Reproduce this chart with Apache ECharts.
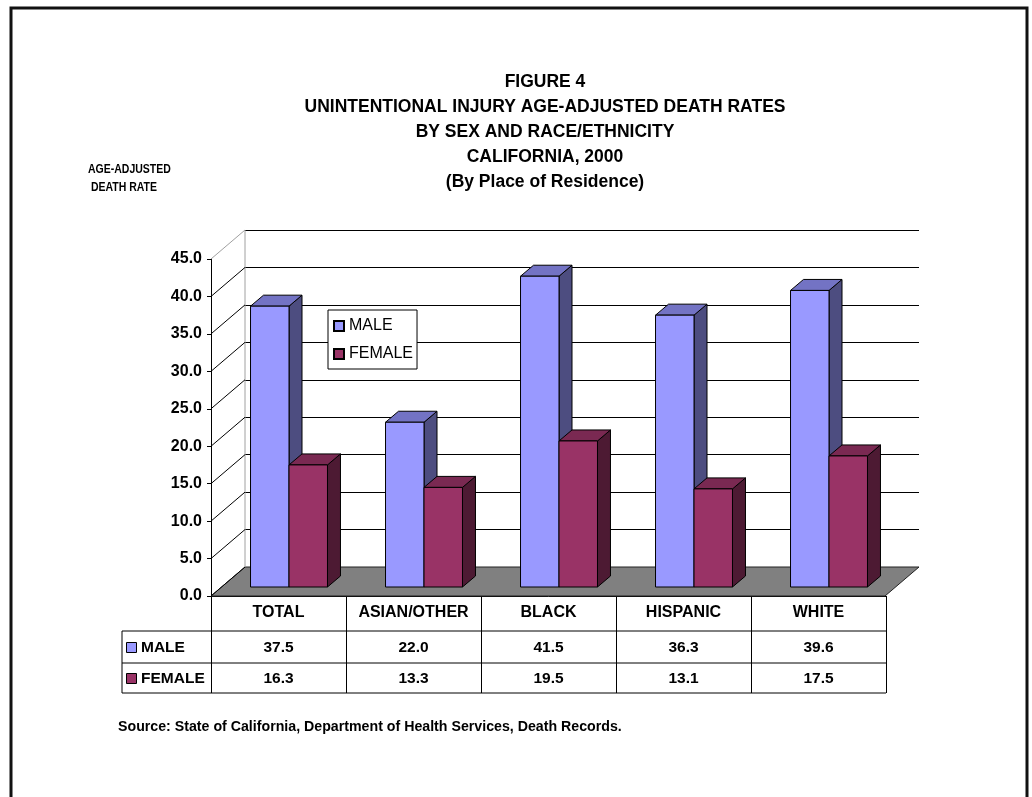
<!DOCTYPE html>
<html>
<head>
<meta charset="utf-8">
<script src="https://cdn.jsdelivr.net/npm/echarts@6/dist/echarts.min.js"></script>
<style>
html,body{margin:0;padding:0;background:#fff;}
#c{width:1032px;height:797px;}
</style>
</head>
<body>
<div id="c"></div>
<script>
var categories = ['TOTAL', 'ASIAN/OTHER', 'BLACK', 'HISPANIC', 'WHITE'];
var maleValues = [37.5, 22.0, 41.5, 36.3, 39.6];
var femaleValues = [16.3, 13.3, 19.5, 13.1, 17.5];
var seriesNames = ['MALE', 'FEMALE'];
var yTicks = [0, 5, 10, 15, 20, 25, 30, 35, 40, 45];
var titleLines = ['FIGURE 4', 'UNINTENTIONAL INJURY AGE-ADJUSTED DEATH RATES', 'BY SEX AND RACE/ETHNICITY', 'CALIFORNIA, 2000', '(By Place of Residence)'];
var yTitle = 'AGE-ADJUSTED\n DEATH RATE';
var sourceText = 'Source: State of California, Department of Health Services, Death Records.';

var FONT = "'Liberation Sans',Arial,sans-serif";
var COLORS = {
  male: {front: '#9999FF', top: '#7373C4', side: '#4D4D80'},
  female: {front: '#993366', top: '#7A2952', side: '#4D1A33'}
};
// geometry
var FRONT = {left: 211, top: 259, width: 675, height: 337};
var BACK_DX = 34, BACK_DY = -29;
var BAR_DX = 10.5, BAR_DY = -9;
var DEPTH_DX = 13, DEPTH_DY = -11;
var BAR_FRAC = 0.285;

var chart = echarts.init(document.getElementById('c'), null, {renderer: 'canvas'});

function barRenderer(idx) {
  var col = idx === 0 ? COLORS.male : COLORS.female;
  return function (params, api) {
    var i = api.value(0), v = api.value(1);
    var base = api.coord([i, 0]);
    var top = api.coord([i, v]);
    var bw = api.size([1, 0])[0] * BAR_FRAC;
    var x0 = idx === 0 ? base[0] - bw : base[0];
    var x1 = x0 + bw;
    var yT = top[1], yB = base[1];
    var st = {stroke: '#000', lineWidth: 1};
    return {
      type: 'group',
      children: [
        {type: 'polygon', shape: {points: [[x1, yT], [x1 + DEPTH_DX, yT + DEPTH_DY], [x1 + DEPTH_DX, yB + DEPTH_DY], [x1, yB]]}, style: Object.assign({fill: col.side}, st)},
        {type: 'polygon', shape: {points: [[x0, yT], [x1, yT], [x1 + DEPTH_DX, yT + DEPTH_DY], [x0 + DEPTH_DX, yT + DEPTH_DY]]}, style: Object.assign({fill: col.top}, st)},
        {type: 'rect', shape: {x: x0, y: yT, width: bw, height: yB - yT}, style: Object.assign({fill: col.front}, st)}
      ]
    };
  };
}

function wallRenderer(params, api) {
  var cs = params.coordSys;
  var y0 = api.coord([0, 0])[1];
  var xL = cs.x, xR = cs.x + cs.width;
  var children = [];
  children.push({type: 'polygon', shape: {points: [[xL, y0], [xR, y0], [xR - BACK_DX, y0 - BACK_DY], [xL - BACK_DX, y0 - BACK_DY]]}, style: {fill: '#808080', stroke: '#222', lineWidth: 1}});
  var ytop = api.coord([0, yTicks[yTicks.length - 1]])[1];
  children.push({type: 'line', shape: {x1: xL, y1: ytop, x2: xL, y2: y0}, style: {stroke: '#A0A0A0', lineWidth: 1}});
  yTicks.forEach(function (t, k) {
    var y = api.coord([0, t])[1];
    var last = k === yTicks.length - 1;
    children.push({type: 'line', shape: {x1: xL - BACK_DX, y1: y - BACK_DY, x2: xL, y2: y}, style: {stroke: last ? '#A0A0A0' : '#000', lineWidth: 1}});
  });
  return {type: 'group', children: children};
}

var tableTop = FRONT.top + FRONT.height; // 596
var rowLines = [tableTop + 35, tableTop + 67, tableTop + 97];
var tableLeft = 122;
var tableRight = FRONT.left + FRONT.width;

function tableRenderer(params, api) {
  var i = api.value(0);
  var x = api.coord([i, 0])[0];
  return {
    type: 'group',
    children: [
      {type: 'text', style: {x: x, y: (rowLines[0] + rowLines[1]) / 2 + 1, text: api.value(1).toFixed(1), textAlign: 'center', textVerticalAlign: 'middle', font: 'bold 15.5px ' + FONT, fill: '#000'}},
      {type: 'text', style: {x: x, y: (rowLines[1] + rowLines[2]) / 2 + 1, text: api.value(2).toFixed(1), textAlign: 'center', textVerticalAlign: 'middle', font: 'bold 15.5px ' + FONT, fill: '#000'}}
    ]
  };
}

var graphics = [
  {type: 'rect', shape: {x: 11, y: 8, width: 1016, height: 820}, style: {fill: 'none', stroke: '#111', lineWidth: 3}, z: 100},
  {type: 'text', x: 88, y: 161, scaleX: 0.84, style: {text: yTitle, font: 'bold 12.5px ' + FONT, fill: '#000', lineHeight: 18}},
  {type: 'text', x: 118, y: 727, style: {text: sourceText, font: 'bold 14.2px ' + FONT, fill: '#000', textVerticalAlign: 'middle'}}
];
// table grid lines
rowLines.forEach(function (y) {
  graphics.push({type: 'line', shape: {x1: tableLeft, y1: y, x2: tableRight, y2: y}, style: {stroke: '#000', lineWidth: 1}});
});
graphics.push({type: 'line', shape: {x1: tableLeft, y1: rowLines[0], x2: tableLeft, y2: rowLines[2]}, style: {stroke: '#000', lineWidth: 1}});
// table legend keys
seriesNames.forEach(function (n, k) {
  var yc = (rowLines[k] + rowLines[k + 1]) / 2 + 1;
  var col = k === 0 ? COLORS.male.front : COLORS.female.front;
  graphics.push({type: 'rect', shape: {x: 126.5, y: yc - 5.5, width: 10, height: 10}, style: {fill: col, stroke: '#000', lineWidth: 1}});
  graphics.push({type: 'text', style: {x: 141, y: yc, text: n, font: 'bold 15.5px ' + FONT, fill: '#000', textVerticalAlign: 'middle'}});
});

var option = {
  backgroundColor: '#fff',
  animation: false,
  title: {
    text: titleLines.join('\n'),
    left: 540, top: 65, textAlign: 'center',
    textStyle: {fontFamily: FONT, fontSize: 17.5, fontWeight: 'bold', lineHeight: 25, color: '#000'}
  },
  legend: {
    data: seriesNames,
    orient: 'vertical', left: 328, top: 310,
    padding: [8, 4, 7, 5], itemGap: 12, itemWidth: 10, itemHeight: 10,
    icon: 'rect',
    backgroundColor: '#fff', borderColor: '#000', borderWidth: 1,
    textStyle: {fontFamily: FONT, fontSize: 16, color: '#000'}
  },
  grid: [
    {left: FRONT.left + BACK_DX, top: FRONT.top + BACK_DY, width: FRONT.width - 1, height: FRONT.height},
    {left: FRONT.left, top: FRONT.top, width: FRONT.width, height: FRONT.height},
    {left: FRONT.left + BAR_DX, top: FRONT.top + BAR_DY, width: FRONT.width, height: FRONT.height}
  ],
  xAxis: [
    {type: 'category', gridIndex: 0, data: categories, show: false},
    {type: 'category', gridIndex: 1, data: categories,
      axisLine: {show: true, lineStyle: {color: '#000', width: 1}},
      axisTick: {show: true, interval: 0, length: 97, lineStyle: {color: '#000'}},
      axisLabel: {interval: 0, margin: 9, fontFamily: FONT, fontSize: 16, fontWeight: 'bold', color: '#000'}},
    {type: 'category', gridIndex: 2, data: categories, show: false}
  ],
  yAxis: [
    {type: 'value', gridIndex: 0, min: 0, max: 45, interval: 5,
      axisLine: {show: false}, axisTick: {show: false}, axisLabel: {show: false},
      splitLine: {show: true, lineStyle: {color: '#000', width: 1}}},
    {type: 'value', gridIndex: 1, min: 0, max: 45, interval: 5,
      axisLine: {show: true, lineStyle: {color: '#000'}},
      axisTick: {show: true, length: 4, lineStyle: {color: '#000'}},
      splitLine: {show: false},
      axisLabel: {margin: 9, formatter: function (v) { return v.toFixed(1); }, fontFamily: FONT, fontSize: 16, fontWeight: 'bold', color: '#000'}},
    {type: 'value', gridIndex: 2, min: 0, max: 45, interval: 5, show: false, splitLine: {show: false}}
  ],
  series: [
    {type: 'custom', name: 'walls', xAxisIndex: 0, yAxisIndex: 0, data: [[0, 0]], renderItem: wallRenderer, z: 1, silent: true},
    {type: 'custom', name: 'MALE', xAxisIndex: 2, yAxisIndex: 2, data: maleValues.map(function (v, i) { return [i, v]; }),
      renderItem: barRenderer(0), itemStyle: {color: COLORS.male.front, borderColor: '#000', borderWidth: 1}, z: 3},
    {type: 'custom', name: 'FEMALE', xAxisIndex: 2, yAxisIndex: 2, data: femaleValues.map(function (v, i) { return [i, v]; }),
      renderItem: barRenderer(1), itemStyle: {color: COLORS.female.front, borderColor: '#000', borderWidth: 1}, z: 4},
    {type: 'custom', name: 'table', xAxisIndex: 1, yAxisIndex: 1, data: maleValues.map(function (v, i) { return [i, v, femaleValues[i]]; }),
      renderItem: tableRenderer, z: 5, silent: true, clip: false}
  ],
  graphic: graphics
};
chart.setOption(option);
</script>
</body>
</html>
